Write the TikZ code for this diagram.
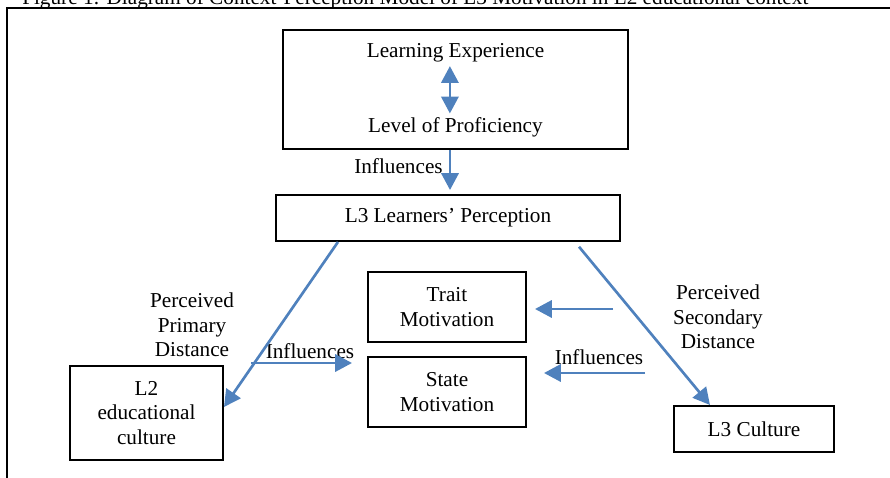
\documentclass[tikz,border=0pt]{standalone}
\usepackage{fontspec}
\setmainfont{Liberation Serif}
\usetikzlibrary{arrows.meta}
\definecolor{arrowblue}{RGB}{79,129,189}

\tikzset{
  box/.style={draw, line width=1.4pt, inner sep=0pt, align=center},
  lbl/.style={align=center, inner sep=2.5pt},
  flow/.style={draw=arrowblue, line width=1.9pt, -{Triangle[length=0.42cm,width=0.43cm]}},
  twoflow/.style={flow, {Triangle[length=0.42cm,width=0.43cm]}-{Triangle[length=0.42cm,width=0.43cm]}},
}

\begin{document}
\begin{tikzpicture}[x=0.025cm, y=-0.025cm, font=\fontsize{15.1pt}{17.4pt}\selectfont]
\useasboundingbox (0,0) rectangle (890,478);
% caption (cut off at the top) and frame
\node[anchor=base west, inner sep=0pt] (caption) at (22,4.5) {Figure 1: Diagram of Context-Perception Model of L3 Motivation in L2 educational context};
\draw[line width=1.4pt] (7,520) -- (7,8) -- (920,8);

% boxes
\node[box, minimum width=8.625cm, minimum height=2.975cm] (exp) at (455.5,89.5) {};
\node[lbl] (learn) at (455.5,53) {Learning Experience};
\node[lbl] (prof) at (455.5,127) {Level of Proficiency};
\node[box, minimum width=8.6cm, minimum height=1.15cm] (percep) at (448,218) {L3 Learners' Perception};
\node[box, minimum width=3.95cm, minimum height=1.75cm] (trait) at (447,307) {Trait\\Motivation};
\node[box, minimum width=3.95cm, minimum height=1.75cm] (state) at (447,392) {State\\Motivation};
\node[box, minimum width=3.825cm, minimum height=2.35cm] (ltwo) at (146.5,413) {L2\\educational\\culture};
\node[box, minimum width=4cm, minimum height=1.15cm] (lthree) at (754,429) {L3 Culture};

% labels
\node[lbl, anchor=east, inner sep=0pt] (inflA) at (443,166) {Influences};
\node[lbl] (primary) at (192,325) {Perceived\\Primary\\Distance};
\node[lbl] (secondary) at (718,317) {Perceived\\Secondary\\Distance};
\node[lbl] (inflB) at (310,351) {Influences};
\node[lbl] (inflC) at (599,357) {Influences};

% arrows
\coordinate (fromL) at (251,363);
\coordinate (toTrait) at (613,309);
\coordinate (toState) at (645,373);
\draw[twoflow] ([xshift=-0.14cm]learn.south) -- ([xshift=-0.14cm]prof.north);
\draw[flow, shorten >=0.1cm] ([xshift=0.05cm]exp.south -| percep.north) -- ([xshift=0.05cm]percep.north);
\draw[flow] ([xshift=-2.75cm]percep.south) -- ([yshift=0.15cm]ltwo.east);
\draw[flow] ([xshift=3.275cm,yshift=-0.12cm]percep.south) -- ([xshift=-1.1cm]lthree.north);
\draw[flow, shorten >=0.375cm] (fromL) -- (fromL -| state.west);
\draw[flow, shorten >=0.2cm] (toTrait) -- (toTrait -| trait.east);
\draw[flow, shorten >=0.425cm] (toState) -- (toState -| state.east);
\end{tikzpicture}
\end{document}
